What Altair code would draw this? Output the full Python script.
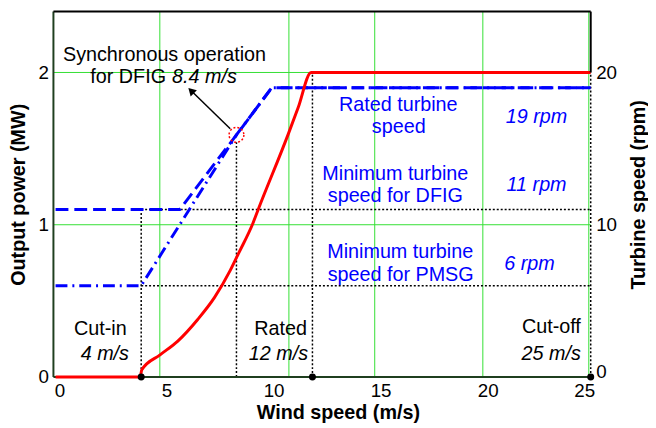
import altair as alt
import pandas as pd

FONT = "Liberation Sans"

# ---- data ----
wind = [0, 3.95, 4.03, 4.88, 5.71, 6.64, 7.42, 8.16, 8.56, 9.22, 9.48, 10.87, 11.33, 11.94, 25]
power_mw = [0, 0, 0.047, 0.145, 0.236, 0.378, 0.521, 0.70, 0.815, 1.01, 1.105, 1.595, 1.768, 2.0, 2.0]

dfig_wind = [0, 5.8, 8.45, 10.1, 25]
dfig_rpm = [11, 11, 15.9, 19, 19]
pmsg_wind = [0, 4.0, 8.45, 10.1, 25]
pmsg_rpm = [6, 6, 15.9, 19, 19]

x_ticks = [0, 5, 10, 15, 20, 25]
power_ticks = [0, 1, 2]
speed_ticks = [0, 10, 20]
grid_wind = [4.87, 10.90, 14.91, 19.96, 24.91]
grid_power = [1, 2]
key_wind = [4, 12, 25]          # cut-in, rated, cut-off
sync_wind, sync_rpm = 8.45, 15.9
rated_power = 2.0
levels_rpm = [6, 11]

XMIN, XMAX, YMAX = -0.1, 25, 2.4
xs = alt.Scale(domain=[XMIN, XMAX], nice=False, zero=False)
ys = alt.Scale(domain=[0, YMAX], nice=False, zero=False)

def X(f="x"):
    return alt.X(f"{f}:Q", scale=xs, axis=None)

def Y(f="y"):
    return alt.Y(f"{f}:Q", scale=ys, axis=None)

# ---- grid ----
grid_df = pd.DataFrame(
    [{"x": g, "x2": g, "y": 0, "y2": YMAX} for g in grid_wind]
    + [{"x": XMIN, "x2": XMAX, "y": g, "y2": g} for g in grid_power]
)
grid = alt.Chart(grid_df).mark_rule(color="#33e033", strokeWidth=1).encode(
    x=X(), x2="x2:Q", y=Y(), y2="y2:Q")

# ---- dotted guide lines ----
circle_bottom = 1.542
dot_df = pd.DataFrame([
    {"x": key_wind[0], "x2": key_wind[0], "y": 0, "y2": levels_rpm[1] / 10},
    {"x": sync_wind, "x2": sync_wind, "y": 0, "y2": circle_bottom},
    {"x": key_wind[1], "x2": key_wind[1], "y": 0, "y2": rated_power},
    {"x": key_wind[2], "x2": key_wind[2], "y": 0, "y2": rated_power},
    {"x": key_wind[0], "x2": XMAX, "y": levels_rpm[1] / 10, "y2": levels_rpm[1] / 10},
    {"x": key_wind[0], "x2": XMAX, "y": levels_rpm[0] / 10, "y2": levels_rpm[0] / 10},
])
dotted = alt.Chart(dot_df).mark_rule(color="black", strokeWidth=1.5, strokeDash=[2, 2]).encode(
    x=X(), x2="x2:Q", y=Y(), y2="y2:Q")

# ---- frame: top and upper right black, left and bottom dark green ----
frame_df = pd.DataFrame([
    {"x": XMIN, "x2": XMAX, "y": YMAX, "y2": YMAX},
    {"x": XMAX, "x2": XMAX, "y": rated_power, "y2": YMAX},
])
frame = alt.Chart(frame_df).mark_rule(color="black", strokeWidth=2).encode(
    x=X(), x2="x2:Q", y=Y(), y2="y2:Q")
frame2_df = pd.DataFrame([
    {"x": XMIN, "x2": XMIN, "y": 0, "y2": YMAX},
    {"x": XMIN, "x2": XMAX, "y": 0, "y2": 0},
])
frame2 = alt.Chart(frame2_df).mark_rule(color="#1f3f1f", strokeWidth=2).encode(
    x=X(), x2="x2:Q", y=Y(), y2="y2:Q")

# ---- blue turbine speed lines ----
dfig_df = pd.DataFrame({"x": dfig_wind, "rpm": dfig_rpm, "i": range(len(dfig_wind))})
pmsg_df = pd.DataFrame({"x": pmsg_wind, "rpm": pmsg_rpm, "i": range(len(pmsg_wind))})
dfig_line = alt.Chart(dfig_df).transform_calculate(y="datum.rpm / 10").mark_line(
    color="#0000ff", strokeWidth=3, strokeDash=[13, 6]).encode(x=X(), y=Y(), order="i:Q")
pmsg_line = alt.Chart(pmsg_df).transform_calculate(y="datum.rpm / 10").mark_line(
    color="#0000ff", strokeWidth=3, strokeDash=[12, 5, 2, 5]).encode(x=X(), y=Y(), order="i:Q")

# ---- red power curve (carries x axis and left axis) ----
red_df = pd.DataFrame({"x": wind, "y": power_mw, "i": range(len(wind))})
x_axis = alt.Axis(values=x_ticks, title="Wind speed (m/s)", labelOffset=4, labelPadding=5,
                  titleX=288, titleY=42, titleBaseline="alphabetic",
                  domain=False, ticks=False, grid=False)
left_axis = alt.Axis(values=power_ticks, title="Output power (MW)", titleAngle=270,
                     titleX=-29.7, titleY=185, titleBaseline="alphabetic", titleAlign="center",
                     labelPadding=5, domain=False, ticks=False, grid=False)
red = alt.Chart(red_df).mark_line(color="#ff0000", strokeWidth=3, interpolate="monotone").encode(
    x=alt.X("x:Q", scale=xs, axis=x_axis),
    y=alt.Y("y:Q", scale=ys, axis=left_axis),
    order="i:Q")

# ---- right axis (turbine speed) ----
right_axis = alt.Axis(orient="right", values=[v / 10 for v in speed_ticks],
                      labelExpr="datum.value * 10", title="Turbine speed (rpm)",
                      titleAngle=270, titleX=54, titleY=185, titleBaseline="alphabetic",
                      titleAlign="center", labelPadding=5, domain=False, ticks=False, grid=False,
                      labelBaseline={"condition": {"test": "datum.value === 0", "value": "alphabetic"},
                                     "value": "middle"})
right = alt.Chart(pd.DataFrame({"y": [0, YMAX]})).mark_point(opacity=0).encode(
    y=alt.Y("y:Q", scale=ys, axis=right_axis))

# ---- synchronous point circle + arrow ----
circ = alt.Chart(pd.DataFrame({"x": [sync_wind], "rpm": [sync_rpm]})).transform_calculate(
    y="datum.rpm / 10").mark_point(shape="circle", filled=False, size=225, color="#ff0000",
                                   strokeWidth=1.5, strokeDash=[2, 2], opacity=1).encode(x=X(), y=Y())
arrow = alt.Chart(pd.DataFrame({"x": [8.16], "y": [1.63], "x2": [6.30], "y2": [1.885]})).mark_rule(
    color="black", strokeWidth=1.5).encode(x=X(), y=Y(), x2="x2:Q", y2="y2:Q")
head = alt.Chart(pd.DataFrame({"x": [6.33], "y": [1.88]})).mark_point(
    shape="triangle-up", filled=True, size=80, angle=315, color="black", opacity=1).encode(x=X(), y=Y())

# ---- key dots on x axis ----
dots = alt.Chart(pd.DataFrame({"x": key_wind, "y": [0] * len(key_wind)})).mark_point(
    filled=True, size=50, color="black", opacity=1).encode(x=X(), y=Y())

# ---- texts ----
def texts(rows, color="black", style="normal", align="center"):
    return alt.Chart(pd.DataFrame(rows, columns=["x", "y", "t"])).mark_text(
        font=FONT, fontSize=20, color=color, fontStyle=style, align=align,
        baseline="alphabetic").encode(x=X(), y=Y(), text="t:N")

t_black = texts([
    (5.09, 2.077, "Synchronous operation"),
    (2.09, 0.274, "Cut-in"),
    (10.51, 0.274, "Rated"),
])
t_black_r = texts([(5.16, 1.93, "for DFIG"), (24.54, 0.289, "Cut-off")], align="right")
t_black_it = texts([(2.30, 0.110, "4 m/s"), (10.41, 0.110, "12 m/s")], style="italic")
t_black_it_l = texts([(5.44, 1.93, "8.4 m/s")], style="italic", align="left")
t_black_it_r = texts([(24.54, 0.110, "25 m/s")], style="italic", align="right")
t_blue = texts([
    (16.01, 1.746, "Rated turbine"),
    (16.03, 1.603, "speed"),
    (15.87, 1.292, "Minimum turbine"),
    (15.87, 1.152, "speed for DFIG"),
    (16.10, 0.780, "Minimum turbine"),
    (16.12, 0.629, "speed for PMSG"),
], color="#0000ff")
t_blue_it = texts([
    (22.47, 1.670, "19 rpm"),
    (22.47, 1.223, "11 rpm"),
    (22.14, 0.700, "6 rpm"),
], color="#0000ff", style="italic")

chart = alt.layer(
    grid, dotted, frame2, dfig_line, pmsg_line, red, frame, circ, arrow, head, dots,
    t_black, t_black_r, t_black_it, t_black_it_l, t_black_it_r, t_blue, t_blue_it, right
).resolve_axis(x="independent", y="independent").properties(
    width=544, height=370,
    autosize=alt.AutoSizeParams(type="none"),
    padding={"left": 46, "top": 1, "right": 58, "bottom": 48},
).configure_view(stroke=None).configure_axis(
    labelFont=FONT, labelFontSize=19, labelColor="black",
    titleFont=FONT, titleFontSize=20, titleFontWeight="bold", titleColor="black",
)

chart.save("out.html", embed_options={"renderer": "svg", "actions": False})
